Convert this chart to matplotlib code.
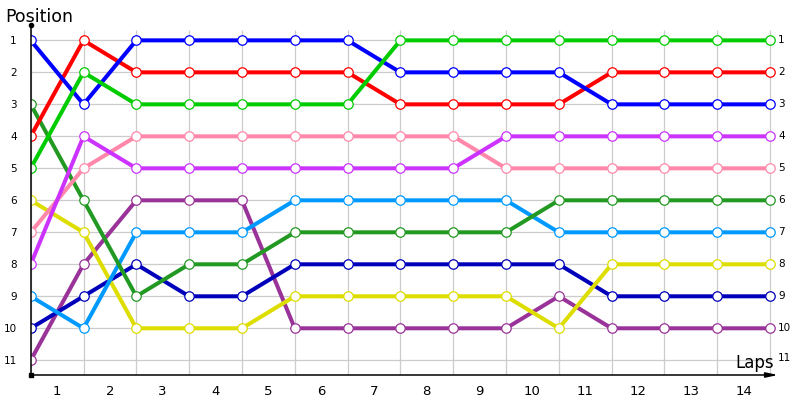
import matplotlib
matplotlib.use('Agg')
import matplotlib.pyplot as plt
import numpy as np

# Позиции гонщиков по кругам (точка 0 = старт)
points = list(range(15))
lap_labels = [str(i) for i in range(1, 15)]
positions = list(range(1, 12))

purple = [11, 8, 6, 6, 6, 10, 10, 10, 10, 10, 9, 10, 10, 10, 10]
navy = [10, 9, 8, 9, 9, 8, 8, 8, 8, 8, 8, 9, 9, 9, 9]
yellow = [6, 7, 10, 10, 10, 9, 9, 9, 9, 9, 10, 8, 8, 8, 8]
light_blue = [9, 10, 7, 7, 7, 6, 6, 6, 6, 6, 7, 7, 7, 7, 7]
dark_green = [3, 6, 9, 8, 8, 7, 7, 7, 7, 7, 6, 6, 6, 6, 6]
pink = [7, 5, 4, 4, 4, 4, 4, 4, 4, 5, 5, 5, 5, 5, 5]
violet = [8, 4, 5, 5, 5, 5, 5, 5, 5, 4, 4, 4, 4, 4, 4]
green = [5, 2, 3, 3, 3, 3, 3, 1, 1, 1, 1, 1, 1, 1, 1]
red = [4, 1, 2, 2, 2, 2, 2, 3, 3, 3, 3, 2, 2, 2, 2]
blue = [1, 3, 1, 1, 1, 1, 1, 2, 2, 2, 2, 3, 3, 3, 3]

series = [
    (purple, '#993399'),
    (navy, '#0000BB'),
    (yellow, '#DDDD00'),
    (light_blue, '#0099FF'),
    (dark_green, '#229922'),
    (pink, '#FF88AA'),
    (violet, '#CC33FF'),
    (red, '#FF0000'),
    (blue, '#0000FF'),
    (green, '#00CC00'),
]

fig = plt.figure(figsize=(8, 4), dpi=100)
ax = fig.add_axes([30.7 / 800, 25 / 400, (778 - 30.7) / 800, 350 / 400])

x_max = 14.15
y_top = 0.52
y_bottom = 11.46
ax.set_xlim(0, x_max)
ax.set_ylim(y_bottom, y_top)

# сетка
ax.hlines(positions, 0, points[-1], color='#CCCCCC', lw=0.9, zorder=1)
ax.vlines(points, 0.68, y_bottom, color='#CCCCCC', lw=0.9, zorder=1)

for vals, col in series:
    ax.plot(points, vals, color=col, lw=2.9, marker='o', markersize=6.8,
            markerfacecolor='white', markeredgecolor=col, markeredgewidth=0.9,
            zorder=3, solid_capstyle='round')

for s in ax.spines.values():
    s.set_visible(False)

# оси
ax.plot([0, 0], [y_top, y_bottom], color='black', lw=1.1, clip_on=False, zorder=4)
ax.plot([0], [y_top], 'o', color='black', markersize=3, clip_on=False, zorder=4)
ax.plot([0], [y_bottom], 's', color='black', markersize=2.5, clip_on=False, zorder=4)
ax.annotate('', xy=(x_max, y_bottom), xytext=(0, y_bottom),
            arrowprops=dict(arrowstyle='-|>,head_length=0.7,head_width=0.15',
                            color='black', lw=1.1, shrinkA=0, shrinkB=0),
            annotation_clip=False, zorder=4)

ax.set_yticks(positions)
ax.set_yticklabels([str(p) for p in positions])
ax.tick_params(axis='y', length=0, pad=10, labelsize=7.5)
ax.set_xticks([p + 0.5 for p in points[:-1]])
ax.set_xticklabels(lap_labels)
ax.tick_params(axis='x', length=0, pad=7, labelsize=9.5)

# подписи позиций справа
for p in positions:
    dy = -0.06 if p == positions[-1] else 0
    ax.text(x_max, p + dy, str(p), fontsize=7.5, ha='left', va='center',
            clip_on=False)

fig.text(5 / 800, 1 - 22 / 400, 'Position', fontsize=12.5, ha='left', va='baseline')
fig.text(774 / 800, 1 - 368 / 400, 'Laps', fontsize=12, ha='right', va='baseline')

fig.savefig('out.png', dpi=100)
